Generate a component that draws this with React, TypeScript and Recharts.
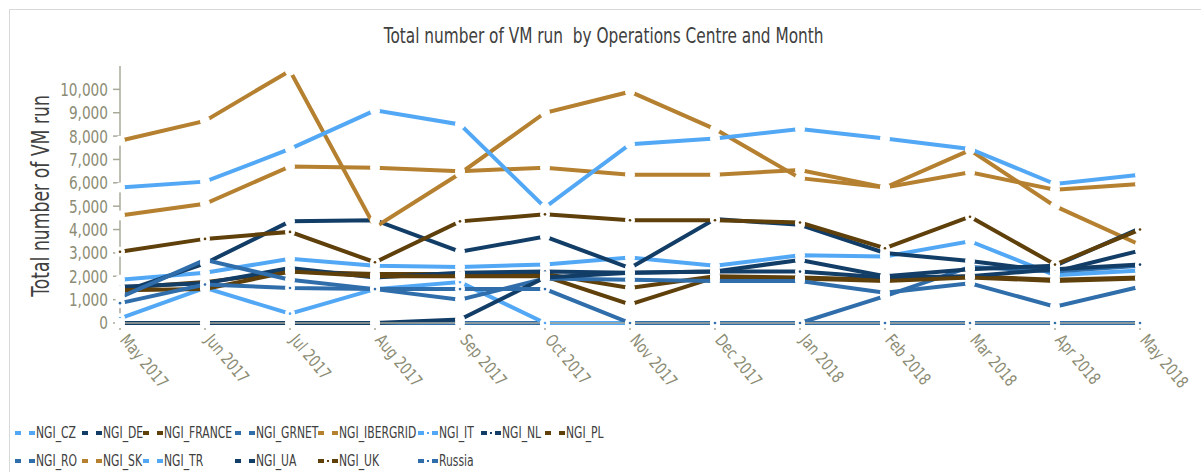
import React from "react";
import { LineChart, Line, XAxis, YAxis, CartesianGrid } from "recharts";

const months = [
  "May 2017", "Jun 2017", "Jul 2017", "Aug 2017", "Sep 2017", "Oct 2017", "Nov 2017",
  "Dec 2017", "Jan 2018", "Feb 2018", "Mar 2018", "Apr 2018", "May 2018",
];

const ngiCz = [1850, 2150, 2750, 2450, 2400, 2500, 2800, 2450, 2900, 2850, 3500, 2050, 2250];
const ngiDe = [1300, 2550, 4350, 4400, 3050, 3700, 2350, 4450, 4200, 3000, 2650, 2200, 3100];
const ngiFrance = [1500, 1750, 2200, 2100, 2100, 2100, 1500, 2000, 1950, 1850, 2000, 1850, 1950];
const ngiGrnet = [0, 0, 0, 0, 0, 0, 0, 0, 0, 1150, 2400, 2200, 2450];
const ngiIbergrid = [4600, 5100, 6700, 6650, 6500, 6650, 6350, 6350, 6550, 5800, 6450, 5700, 5950];
const ngiIt = [200, 1500, 400, 1450, 1750, 0, 0, 0, 0, 0, 0, 0, 0];
const ngiNl = [1550, 1700, 2350, 1950, 2150, 2200, 2150, 2200, 2200, 1950, 2000, 2300, 2500];
const ngiPl = [1400, 1450, 2200, 2000, 2000, 2000, 800, 1950, 1900, 1800, 1950, 1800, 1900];
const ngiRo = [1100, 2700, 1850, 1450, 1000, 1900, 1850, 1800, 1800, 1300, 1700, 700, 1550];
const ngiSk = [7800, 8650, 10800, 4100, 6400, 9000, 9900, 8300, 6200, 5800, 7400, 5000, 3350];
const ngiTr = [5800, 6050, 7450, 9100, 8500, 4950, 7650, 7900, 8300, 7900, 7450, 5950, 6350];
const ngiUa = [0, 0, 0, 0, 150, 1950, 2150, 2200, 2700, 2000, 2300, 2450, 4050];
const ngiUk = [3050, 3600, 3900, 2600, 4350, 4650, 4400, 4400, 4300, 3200, 4550, 2500, 4000];
const russia = [850, 1650, 1500, 1450, 1450, 1450, 0, 0, 0, 0, 0, 0, 0];

const yTicks = [0, 1000, 2000, 3000, 4000, 5000, 6000, 7000, 8000, 9000, 10000];

const LIGHT = "#52a8f5";
const NAVY = "#123d66";
const BROWN = "#5f3f0a";
const MID = "#2f6eaa";
const GOLD = "#b5802f";

const series = [
  { key: "NGI_CZ", values: ngiCz, color: LIGHT, dot: false },
  { key: "NGI_DE", values: ngiDe, color: NAVY, dot: false },
  { key: "NGI_FRANCE", values: ngiFrance, color: BROWN, dot: false },
  { key: "NGI_GRNET", values: ngiGrnet, color: MID, dot: false },
  { key: "NGI_IBERGRID", values: ngiIbergrid, color: GOLD, dot: false },
  { key: "NGI_IT", values: ngiIt, color: LIGHT, dot: true },
  { key: "NGI_NL", values: ngiNl, color: NAVY, dot: true },
  { key: "NGI_PL", values: ngiPl, color: BROWN, dot: false },
  { key: "NGI_RO", values: ngiRo, color: MID, dot: false },
  { key: "NGI_SK", values: ngiSk, color: GOLD, dot: false },
  { key: "NGI_TR", values: ngiTr, color: LIGHT, dot: false },
  { key: "NGI_UA", values: ngiUa, color: NAVY, dot: false },
  { key: "NGI_UK", values: ngiUk, color: BROWN, dot: true },
  { key: "Russia", values: russia, color: MID, dot: true },
];

const data = months.map((month, i) => {
  const row: Record<string, string | number> = { month };
  series.forEach((s) => {
    row[s.key] = s.values[i];
  });
  return row;
});

// no condensed face installed, so text is squeezed horizontally
const FONT = "'DejaVu Sans', sans-serif";
const SQUEEZE = 0.76;
const AXIS_TEXT = "#8c8c74";
const AXIS_LINE = "#a9a99a";

// legend columns: row 1 then row 2
const legendPos: Record<string, [number, number]> = {
  NGI_CZ: [15, 433], NGI_DE: [82, 433], NGI_FRANCE: [143, 433], NGI_GRNET: [235, 433],
  NGI_IBERGRID: [318, 433], NGI_IT: [418, 433], NGI_NL: [481, 433], NGI_PL: [545, 433],
  NGI_RO: [15, 461], NGI_SK: [82, 461], NGI_TR: [143, 461], NGI_UA: [235, 461],
  NGI_UK: [318, 461], Russia: [418, 461],
};

const XTick = (props: any) => {
  const { x, y, payload } = props;
  return (
    <g transform={`translate(${x},${y}) rotate(50) scale(${SQUEEZE},1)`}>
      <text x={8} y={0} dy="0.35em" textAnchor="start" fill={AXIS_TEXT} fontSize={17} fontFamily={FONT}>
        {payload.value}
      </text>
    </g>
  );
};

const YTick = (props: any) => {
  const { x, y, payload } = props;
  return (
    <g transform={`translate(${x},${y}) scale(${SQUEEZE},1)`}>
      <text x={0} y={0} dy="0.36em" textAnchor="end" fill={AXIS_TEXT} fontSize={18} fontFamily={FONT}>
        {payload.value.toLocaleString("en-US")}
      </text>
    </g>
  );
};

const makeDot = (color: string, centre: boolean) => (p: any) => {
  const { cx, cy, index } = p;
  if (cx == null || cy == null) return <g key={index} />;
  return (
    <g key={index}>
      <circle cx={cx} cy={cy} r={5} fill="#fff" />
      {centre && <circle cx={cx} cy={cy} r={1.3} fill={color} />}
    </g>
  );
};

export default function App() {
  return (
    <div
      style={{
        position: "absolute",
        left: 0,
        top: 0,
        width: 1201,
        height: 472,
        background: "#fff",
        fontFamily: FONT,
        overflow: "hidden",
      }}
    >
      <div
        style={{
          position: "absolute",
          left: 9,
          top: 9,
          width: 1200,
          height: 470,
          borderLeft: "1px solid #d9d9d9",
          borderTop: "1px solid #d9d9d9",
        }}
      />
      <div
        style={{
          position: "absolute",
          left: 0,
          width: 1201,
          top: 24,
          textAlign: "center",
          fontSize: 21,
          color: "#404040",
          whiteSpace: "pre",
          transform: "scaleX(0.73)",
          transformOrigin: "612px 0",
        }}
      >
        {"Total number of VM run  by Operations Centre and Month"}
      </div>
      <div style={{ position: "absolute", left: 0, top: 0 }}>
        <LineChart
          width={1201}
          height={472}
          data={data}
          margin={{ top: 66, right: 61, bottom: 0, left: 0 }}
        >
          <CartesianGrid stroke="none" />
          <XAxis
            dataKey="month"
            interval={0}
            height={149}
            padding={{ left: 0, right: 0 }}
            scale="point"
            stroke={AXIS_LINE}
            strokeWidth={1.5}
            tickSize={7}
            tick={<XTick />}
          />
          <YAxis
            width={120}
            domain={[0, 11000]}
            ticks={yTicks}
            interval={0}
            stroke={AXIS_LINE}
            strokeWidth={1.5}
            tickSize={7}
            tickMargin={5}
            tick={<YTick />}
          />
          <g transform="translate(40,196) rotate(-90) scale(0.69,1)">
            <text x={0} y={0} dy="0.36em" textAnchor="middle" fill="#404040" fontSize={25} fontFamily={FONT}>
              Total number of VM run
            </text>
          </g>
          {series.map((s) => (
            <Line
              key={s.key}
              type="linear"
              dataKey={s.key}
              stroke={s.color}
              strokeWidth={4}
              dot={makeDot(s.color, s.dot)}
              activeDot={false}
              isAnimationActive={false}
            />
          ))}
        </LineChart>
      </div>
      {series.map((s) => {
        const [lx, ly] = legendPos[s.key];
        return (
          <div
            key={s.key}
            style={{
              position: "absolute",
              left: lx,
              top: ly - 9,
              height: 18,
              display: "flex",
              alignItems: "center",
              fontSize: 15,
              color: "#404040",
              whiteSpace: "nowrap",
            }}
          >
            <svg width={20} height={8} style={{ marginRight: 1 }}>
              <rect x={0} y={2} width={6} height={4} fill={s.color} />
              {s.dot && <rect x={9} y={3} width={2} height={2} fill={s.color} />}
              <rect x={14} y={2} width={6} height={4} fill={s.color} />
            </svg>
            <span style={{ display: "inline-block", transform: "scaleX(0.72)", transformOrigin: "0 50%" }}>
              {s.key}
            </span>
          </div>
        );
      })}
    </div>
  );
}
